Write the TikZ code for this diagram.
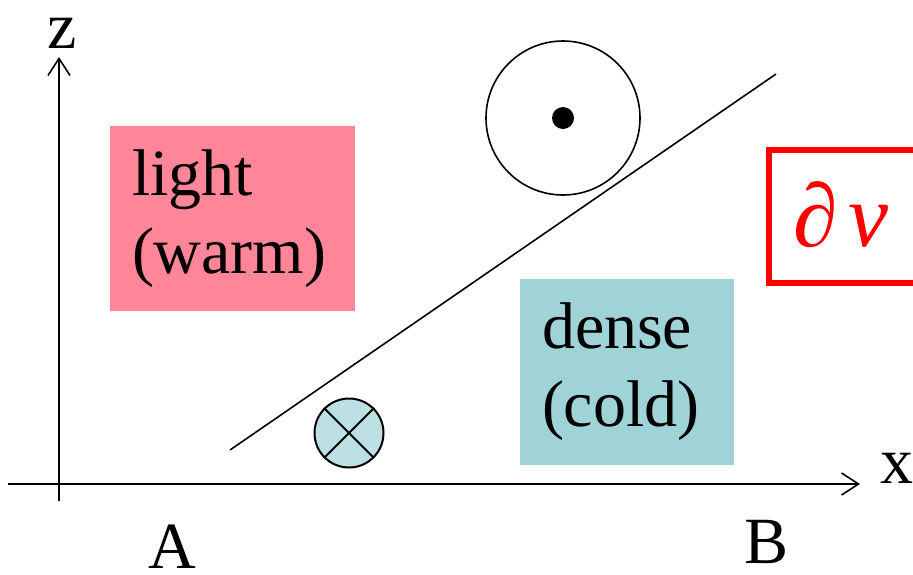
\documentclass[tikz,border=0pt]{standalone}
\usepackage{fontspec}
\setmainfont{Liberation Serif}
\usetikzlibrary{arrows.meta}
\definecolor{rose}{HTML}{FF8599}
\definecolor{turquoise}{HTML}{9FD3D8}
\definecolor{turquoiseclair}{HTML}{BCE0E3}
\begin{document}
\begin{tikzpicture}[x=1pt,y=-1pt]
	% Styles
	\tikzstyle{fleche}=[-{Straight Barb[length=17pt,width=22pt]},line width=1.6pt]
	\tikzstyle{trait}=[line width=1.6pt]
	\tikzstyle{etiquette}=[inner sep=0pt,font=\fontsize{66}{78}\selectfont]
	\tikzstyle{boite}=[etiquette,inner xsep=22pt,align=left]
	\tikzstyle{rond}=[circle,draw,inner sep=0pt,line width=1.6pt]
	% Cadre
	\useasboundingbox (0,0) rectangle (913,574);
	\clip (0,0) rectangle (913,574);
	% Axes
	\coordinate (Xa) at (8,484);
	\coordinate (Xb) at (860,484);
	\coordinate (Za) at (59,501);
	\coordinate (Zb) at (59,57);
	\draw[fleche] (Xa)--(Xb);
	\draw[fleche] (Za)--(Zb);
	\node[etiquette] (Z) at (62,33) {z};
	\node[etiquette] (X) at (897,468) {x};
	\node[etiquette] (A) at (172,547) {A};
	\node[etiquette] (B) at (767,542) {B};
	% Masses d'air
	\node[boite,fill=rose,text width=201pt,minimum height=185pt] (Chaud) at (232.5,218.5) {light\\(warm)};
	\node[boite,fill=turquoise,text width=170pt,minimum height=186pt] (Froid) at (627,372) {dense\\(cold)};
	% Front
	\coordinate (Fa) at (230,450);
	\coordinate (Fb) at (776,74);
	\draw[trait] (Fa)--(Fb);
	% Vents
	\node[rond,minimum size=154pt] (Sortant) at (563,118) {};
	\node[circle,fill,inner sep=0pt,minimum size=22pt] (Point) at (Sortant) {};
	\node[rond,fill=turquoiseclair,line width=2pt,minimum size=69pt] (Entrant) at (349,433) {};
	\draw[line width=2pt] (Entrant.45)--(Entrant.225);
	\draw[line width=2pt] (Entrant.135)--(Entrant.-45);
	% Tourbillon
	\node[draw=red,line width=6pt,text=red,anchor=west,inner sep=0pt,inner xsep=24pt,
		text width=132pt,align=left,minimum height=133pt,
		font=\fontsize{90}{100}\selectfont\itshape] (Dv) at (766,216.5) {\raisebox{4pt}{∂\kern0.12em v}};
\end{tikzpicture}
\end{document}
